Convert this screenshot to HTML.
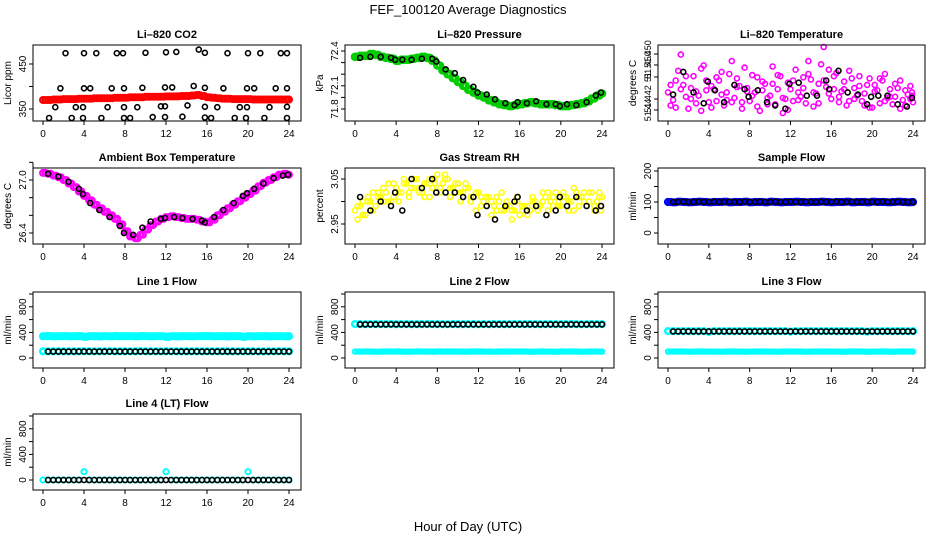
<!DOCTYPE html>
<html><head><meta charset="utf-8"><style>
body{margin:0;background:#fff;}
svg text{font-family:"Liberation Sans",sans-serif;}
</style></head><body>
<svg id="c" width="936" height="540" xmlns="http://www.w3.org/2000/svg">
<text x="468" y="14" font-size="13" text-anchor="middle">FEF_100120  Average Diagnostics</text>
<text x="468" y="531" font-size="13" text-anchor="middle">Hour of Day (UTC)</text>
</svg>
<script>
const h49=[0,0.5,1,1.5,2,2.5,3,3.5,4,4.5,5,5.5,6,6.5,7,7.5,8,8.5,9,9.5,10,10.5,11,11.5,12,12.5,13,13.5,14,14.5,15,15.5,16,16.5,17,17.5,18,18.5,19,19.5,20,20.5,21,21.5,22,22.5,23,23.5,24];
const h49b=[0.25,0.75,1.25,1.75,2.25,2.75,3.25,3.75,4.25,4.75,5.25,5.75,6.25,6.75,7.25,7.75,8.25,8.75,9.25,9.75,10.25,10.75,11.25,11.75,12.25,12.75,13.25,13.75,14.25,14.75,15.25,15.75,16.25,16.75,17.25,17.75,18.25,18.75,19.25,19.75,20.25,20.75,21.25,21.75,22.25,22.75,23.25,23.75,23.9];
const hb=[0.5,1.5,2.5,3.5,3.9,4.6,5.5,6.5,7.5,7.9,8.8,9.7,10.5,11.5,11.9,12.8,13.6,14.6,15.5,15.8,16.7,17.6,18.6,19.5,19.9,20.6,21.5,22.5,23.4,23.9];
const x0=[0.5,1,1.5,2,2.5,3,3.5,4,4.5,5,5.5,6,6.5,7,7.5,8,8.5,9,9.5,10,10.5,11,11.5,12,12.5,13,13.5,14,14.5,15,15.5,16,16.5,17,17.5,18,18.5,19,19.5,20,20.5,21,21.5,22,22.5,23,23.5,24];
// CO2
const co2Red=[370,370,371,371,372,372,372,373,373,373,374,374,374,374,375,375,375,376,376,376,377,377,377,377,378,378,378,379,379,380,381,379,376,375,374,373,373,372,372,372,372,371,371,371,371,371,371,371,371];
const co2BlackX=[2.2,4,5.2,7.2,7.8,10,12,13,15.2,15.8,18,20,21.2,23.2,23.8,1.7,4,4.6,6.7,7.9,9.7,11.9,12.6,14.7,15.8,17.6,19.9,20.6,22.7,23.8,1.2,3.2,3.9,6.3,7.9,9.2,11.5,11.9,14.1,15.8,17,19.2,19.9,22.1,23.8,0.6,2.8,3.9,5.7,7.9,8.5,10.7,11.9,13.6,15.8,16.4,18.7,19.8,21.6,23.8];
const co2BlackY=[474,474,474,474,474,475,476,477,482,475,474,474,474,474,474,396,396,396,396,396,397,398,398,401,397,396,396,396,396,396,354,354,354,354,354,354,356,356,358,355,354,354,354,354,355,330,330,330,330,330,330,332,332,333,331,330,330,330,330,330];
// Pressure
const presGreen=[72.34,72.35,72.35,72.37,72.36,72.34,72.33,72.32,72.30,72.31,72.31,72.32,72.33,72.34,72.33,72.30,72.25,72.20,72.16,72.12,72.08,72.04,72.00,71.97,71.94,71.92,71.89,71.87,71.85,71.84,71.83,71.84,71.85,71.86,71.87,71.86,71.85,71.85,71.85,71.84,71.83,71.83,71.84,71.85,71.86,71.88,71.91,71.94,71.96];
const presBlack=[72.33,72.34,72.34,72.33,72.31,72.31,72.31,72.32,72.32,72.29,72.21,72.17,72.10,72.03,71.97,71.95,71.90,71.86,71.84,71.87,71.86,71.88,71.85,71.85,71.83,71.85,71.84,71.87,71.94,71.97];
// Li-820 temperature
const magA=[51.4455,51.4448,51.4475,51.4462,51.4440,51.4470,51.4452,51.4480,51.4446,51.4458,51.4466,51.4443,51.4472,51.4450,51.4461,51.4478,51.4447,51.4455,51.4438,51.4463,51.4452,51.4444,51.4470,51.4449,51.4458,51.4476,51.4451,51.4445,51.4467,51.4454,51.4481,51.4460,51.4449,51.4473,51.4456,51.4443,51.4468,51.4452,51.4447,51.4462,51.4441,51.4457,51.4466,51.4450,51.4444,51.4459,51.4448,51.4453,51.4446];
const magB=[51.4443,51.4466,51.4490,51.4451,51.4459,51.4445,51.4477,51.4457,51.4441,51.4469,51.4453,51.4448,51.4484,51.4460,51.4446,51.4456,51.4471,51.4442,51.4465,51.4450,51.4479,51.4458,51.4436,51.4464,51.4447,51.4455,51.4469,51.4484,51.4442,51.4463,51.4497,51.4454,51.4470,51.4446,51.4458,51.4475,51.4449,51.4461,51.4443,51.4468,51.4456,51.4445,51.4472,51.4451,51.4463,51.4440,51.4457,51.4449,51.4455];
const magC=[51.4462,51.4441,51.4458,51.4470,51.4449,51.4456,51.4438,51.4466,51.4461,51.4447,51.4474,51.4455,51.4446,51.4468,51.4440,51.4459,51.4452,51.4469,51.4457,51.4444,51.4463,51.4471,51.4450,51.4439,51.4466,51.4448,51.4459,51.4472,51.4455,51.4445,51.4466,51.4476,51.4458,51.4451,51.4465,51.4447,51.4459,51.4470,51.4454,51.4441,51.4462,51.4468,51.4447,51.4458,51.4451,51.4466,51.4443,51.4461,51.4452];
const tempBlack=[51.4453,51.4474,51.4455,51.4445,51.4465,51.4457,51.4446,51.4462,51.4458,51.4451,51.4457,51.4446,51.4443,51.4440,51.4463,51.4464,51.4452,51.4452,51.4466,51.4458,51.4475,51.4455,51.4453,51.4444,51.4451,51.4452,51.4452,51.4444,51.4442,51.4450];
const tempTicks=[51.44388,51.44489,51.44693,51.44804,51.44905];
const tempLabels=["51.44","51.442","51","51.450","51.450"];
// Ambient
const ambMag=[27.08,27.07,27.05,27.03,27.00,26.96,26.92,26.87,26.82,26.77,26.72,26.68,26.64,26.60,26.56,26.50,26.42,26.36,26.34,26.38,26.44,26.49,26.53,26.56,26.58,26.59,26.58,26.57,26.56,26.56,26.55,26.53,26.52,26.55,26.60,26.64,26.68,26.72,26.76,26.80,26.84,26.88,26.93,26.97,27.00,27.03,27.06,27.07,27.06];
const ambBlack=[27.07,27.04,26.98,26.90,26.84,26.74,26.66,26.58,26.48,26.40,26.38,26.46,26.53,26.56,26.57,26.58,26.57,26.56,26.54,26.52,26.58,26.66,26.74,26.82,26.85,26.90,26.96,27.02,27.05,27.06];
// RH
const rhA=[2.98,2.99,2.97,3.00,2.99,3.01,3.02,3.00,3.03,3.02,3.04,3.03,3.05,3.02,3.04,3.03,3.06,3.04,3.05,3.03,3.04,3.02,3.03,3.01,3.02,3.00,3.01,2.99,3.00,2.98,2.99,2.98,2.97,2.99,2.98,3.00,2.99,3.01,3.00,3.02,2.99,3.01,3.00,3.02,3.01,2.99,3.02,3.00,3.01];
const rhB=[2.96,3.00,3.01,2.98,3.02,3.00,3.04,3.01,3.00,3.05,3.01,3.03,3.02,3.04,3.01,3.05,3.02,3.06,3.01,3.04,3.00,3.03,3.00,2.98,3.01,2.99,2.97,3.01,2.98,3.00,2.96,3.00,2.99,2.97,3.00,2.98,3.02,2.98,3.01,2.99,3.02,2.98,3.03,2.99,3.00,3.02,2.98,3.01,2.99];
const rhC=[2.99,2.97,3.00,3.02,3.01,3.03,3.00,3.04,3.02,3.04,3.02,3.05,3.03,3.01,3.05,3.04,3.03,3.05,3.03,3.02,3.02,3.04,3.01,3.02,2.99,3.01,3.00,2.98,3.02,2.99,2.98,3.01,2.98,2.99,3.01,2.99,3.00,3.02,2.99,3.00,3.01,3.00,2.98,3.01,3.02,3.00,2.99,3.02,2.98];
const rhBlack=[3.01,2.98,3.00,2.99,3.02,2.98,3.05,3.03,3.05,3.02,3.02,3.02,3.01,3.01,2.97,2.99,2.96,2.99,3.00,3.01,2.98,2.99,2.97,2.98,3.01,2.99,3.01,2.99,2.98,2.99];
// Flows
const sampBlue=[100,99,101,100,99,100,101,100,99,100,100,101,99,100,100,101,99,100,100,99,101,100,99,100,100,101,100,99,100,100,101,100,99,100,100,101,99,100,100,99,101,100,100,99,100,101,100,99,100];
const sampBlack=[100,100,101,100,100,101,100,100,101,100,100,101,100,100,101,100,100,101,100,100,101,100,100,101,100,100,101,100,100,101,100,100,101,100,100,101,100,100,101,100,100,101,100,100,101,100,100,100];
const l1CyanHi=[340,342,338,340,341,339,340,342,330,340,341,338,340,339,342,340,341,340,338,342,340,339,340,341,330,340,338,341,340,339,340,342,340,339,341,340,338,340,341,330,340,339,341,340,338,340,341,339,340];
const l1CyanLo=[105,104,105,106,104,105,105,104,106,105,104,105,105,106,104,105,105,104,105,106,105,104,105,105,106,104,105,105,104,105,106,105,104,105,105,106,104,105,105,104,105,106,105,104,105,105,106,104,105];
const l1Black=[100,100,100,100,100,100,100,100,100,100,100,100,100,100,100,100,100,100,100,100,100,100,100,100,100,100,100,100,100,100,100,100,100,100,100,100,100,100,100,100,100,100,100,100,100,100,100,100];
const l2CyanHi=[530,532,528,530,531,529,530,532,528,530,531,528,530,529,532,530,531,530,528,532,530,529,530,531,528,530,528,531,530,529,530,532,530,529,531,530,528,530,531,528,530,529,531,530,528,530,531,529,530];
const l2CyanLo=[100,100,101,100,99,100,101,100,102,100,99,100,101,100,100,99,102,100,101,100,100,99,100,101,102,100,100,99,100,101,100,100,102,100,99,100,101,100,100,99,102,100,101,100,99,100,101,100,100];
const l2Black=[525,525,525,525,525,525,525,525,525,525,525,525,525,525,525,525,525,525,525,525,525,525,525,525,525,525,525,525,525,525,525,525,525,525,525,525,525,525,525,525,525,525,525,525,525,525,525,525];
const l3CyanHi=[420,421,419,420,421,419,420,421,410,420,421,419,420,419,421,420,421,420,419,421,420,419,420,421,412,420,419,421,420,419,420,421,420,419,421,420,419,420,421,412,420,419,421,420,419,420,421,419,420];
const l3CyanLo=[100,100,101,100,99,100,101,100,100,100,99,100,101,100,100,99,100,100,101,100,100,99,100,101,100,100,100,99,100,101,100,100,100,100,99,100,101,100,100,99,100,100,101,100,99,100,101,100,100];
const l3Black=[415,415,415,415,415,415,415,415,415,415,415,415,415,415,415,415,415,415,415,415,415,415,415,415,415,415,415,415,415,415,415,415,415,415,415,415,415,415,415,415,415,415,415,415,415,415,415,415];
const l4Cyan=[0,0,0,0,0,0,0,0,130,0,0,0,0,0,0,0,0,0,0,0,0,0,0,0,130,0,0,0,0,0,0,0,0,0,0,0,0,0,0,0,130,0,0,0,0,0,0,0,0];
const l4Black=[0,0,0,0,0,0,0,0,0,0,0,0,0,0,0,0,0,0,0,0,0,0,0,0,0,0,0,0,0,0,0,0,0,0,0,0,0,0,0,0,0,0,0,0,0,0,0,0];
const xTicks=[0,4,8,12,16,20,24];
const flowTicks=[0,200,400,600,800,1000];
const flowLabels=["0","","400","","800",""];

const svg=document.getElementById('c');
const NS='http://www.w3.org/2000/svg';
const colX=[[43,289],[355,602],[668,913]];
const rowTop=[45,168,292,414];
const BH=76;
function mk(tag,at,parent){const e=document.createElementNS(NS,tag);for(const k in at)e.setAttribute(k,at[k]);(parent||svg).appendChild(e);return e;}
function panel(c,r,slug,title,ylab,yA,pA,yB,pB,ticks,labels,series,tfs){
  const g=mk('g',{});
  
  
  const [xa,xb]=colX[c];const top=rowTop[r];const bot=top+BH;
  const left=xa-10,right=xb+12;
  const X=h=>xa+(h/24)*(xb-xa);
  const Y=v=>top+pA+(v-yA)/(yB-yA)*(pB-pA);
  const t=mk('text',{x:(left+right)/2,y:top-7,'font-size':11,'font-weight':'bold','text-anchor':'middle'},g);
  t.textContent=title;
  
  
  const yl=mk('text',{transform:`translate(${left-22},${(top+bot)/2}) rotate(-90)`,'font-size':10,'text-anchor':'middle'},g);
  yl.textContent=ylab;
  
  
  series.forEach(s=>{
    const sg=mk('g',{fill:'none',stroke:s.col,'stroke-width':s.sw||1.6},g);
    
    
    s.y.forEach((v,i)=>{const cy=Y(v);if(cy<top-3||cy>bot+3)return;const p=mk('circle',{cx:X(s.x[i]).toFixed(1),cy:cy.toFixed(1),r:s.r||2.5},sg);
      
      });
  });
  const box=mk('rect',{x:left,y:top,width:right-left,height:BH,fill:'none',stroke:'#000','stroke-width':1},g);
  
  
  xTicks.forEach(h=>{mk('line',{x1:X(h),x2:X(h),y1:bot,y2:bot+4,stroke:'#000'},g);
    const tl=mk('text',{x:X(h),y:bot+16,'font-size':10,'text-anchor':'middle'},g);tl.textContent=h;
    
    });
  mk('line',{x1:X(0),x2:X(24),y1:bot,y2:bot,stroke:'#000'},g);
  ticks.forEach((v,i)=>{const y=Y(v);mk('line',{x1:left-4,x2:left,y1:y,y2:y,stroke:'#000'},g);
    if(labels[i]){const tl=mk('text',{transform:`translate(${left-7},${y}) rotate(-90)`,'font-size':tfs||10,'text-anchor':'middle'},g);tl.textContent=labels[i];
    
    }});
  mk('line',{x1:left,x2:left,y1:Y(ticks[0]),y2:Y(ticks[ticks.length-1]),stroke:'#000'},g);
}
panel(0,0,'co2','Li\u2013820 CO2','Licor ppm',350,64,450,19,[350,400,450],["350","","450"],[
 {name:'red-series',col:'#f00',x:h49,y:co2Red,r:2.8,sw:2.4},
 {name:'red-series-2',col:'#f00',x:h49b,y:co2Red,r:2.8,sw:2.4},
 {name:'black-series',col:'#000',x:co2BlackX,y:co2BlackY}]);
panel(1,0,'pressure','Li\u2013820 Pressure','kPa',71.8,64,72.4,6,[71.8,71.92,72.04,72.16,72.28,72.4],["71.8","","72.1","","","72.4"],[
 {name:'green-series',col:'#0c0',x:h49,y:presGreen,r:3,sw:2.6},
 {name:'green-series-2',col:'#0c0',x:h49b,y:presGreen,r:3,sw:2.6},
 {name:'black-series',col:'#000',x:hb,y:presBlack}]);
panel(2,0,'li820-temp','Li\u2013820 Temperature','degrees C',51.4436,68,51.4497,2,tempTicks,tempLabels,[
 {name:'magenta-series',col:'#f0f',x:h49,y:magA},
 {name:'magenta-series-2',col:'#f0f',x:h49b,y:magB},
 {name:'magenta-series-3',col:'#f0f',x:h49b,y:magC},
 {name:'black-series',col:'#000',x:hb,y:tempBlack}],9);
panel(0,1,'ambient-temp','Ambient Box Temperature','degrees C',26.4,65,27.0,12,[26.4,26.6,26.8,27.0,27.2],["26.4","","","27.0",""],[
 {name:'magenta-series',col:'#f0f',x:h49,y:ambMag,r:2.8,sw:2.4},
 {name:'magenta-series-2',col:'#f0f',x:h49b,y:ambMag,r:2.8,sw:2.4},
 {name:'black-series',col:'#000',x:hb,y:ambBlack}]);
panel(1,1,'gas-rh','Gas Stream RH','percent',2.95,56,3.05,11,[2.95,3.0,3.05],["2.95","","3.05"],[
 {name:'yellow-series',col:'#ff0',x:h49,y:rhA},
 {name:'yellow-series-2',col:'#ff0',x:h49b,y:rhB},
 {name:'yellow-series-3',col:'#ff0',x:h49b,y:rhC},
 {name:'black-series',col:'#000',x:hb,y:rhBlack}]);
panel(2,1,'sample-flow','Sample Flow','ml/min',0,65,200,3,[0,50,100,150,200],["0","","100","","200"],[
 {name:'blue-series',col:'#00f',x:h49,y:sampBlue,r:2.8,sw:2.6},
 {name:'blue-series-2',col:'#00f',x:h49b,y:sampBlue,r:2.8,sw:2.6},
 {name:'black-series',col:'#000',x:x0,y:sampBlack}]);
panel(0,2,'line1-flow','Line 1 Flow','ml/min',0,66,1000,2,flowTicks,flowLabels,[
 {name:'cyan-high',col:'#0ff',x:h49,y:l1CyanHi,r:2.8,sw:2.6},
 {name:'cyan-high-2',col:'#0ff',x:h49b,y:l1CyanHi,r:2.8,sw:2.6},
 {name:'cyan-low',col:'#0ff',x:h49,y:l1CyanLo,r:2.8,sw:2.6},
 {name:'black-series',col:'#000',x:x0,y:l1Black}]);
panel(1,2,'line2-flow','Line 2 Flow','ml/min',0,66,1000,2,flowTicks,flowLabels,[
 {name:'cyan-high',col:'#0ff',x:h49,y:l2CyanHi,r:2.8,sw:2.6},
 {name:'cyan-low',col:'#0ff',x:h49,y:l2CyanLo,r:2.2,sw:2},
 {name:'cyan-low-2',col:'#0ff',x:h49b,y:l2CyanLo,r:2.2,sw:2},
 {name:'black-series',col:'#000',x:x0,y:l2Black}]);
panel(2,2,'line3-flow','Line 3 Flow','ml/min',0,66,1000,2,flowTicks,flowLabels,[
 {name:'cyan-high',col:'#0ff',x:h49,y:l3CyanHi,r:2.8,sw:2.6},
 {name:'cyan-low',col:'#0ff',x:h49,y:l3CyanLo,r:2.2,sw:2},
 {name:'cyan-low-2',col:'#0ff',x:h49b,y:l3CyanLo,r:2.2,sw:2},
 {name:'black-series',col:'#000',x:x0,y:l3Black}]);
panel(0,3,'line4-flow','Line 4 (LT) Flow','ml/min',0,66,1000,2,flowTicks,flowLabels,[
 {name:'cyan-series',col:'#0ff',x:h49,y:l4Cyan,r:2.6,sw:2},
 {name:'black-series',col:'#000',x:x0,y:l4Black}]);
</script>
</body></html>
